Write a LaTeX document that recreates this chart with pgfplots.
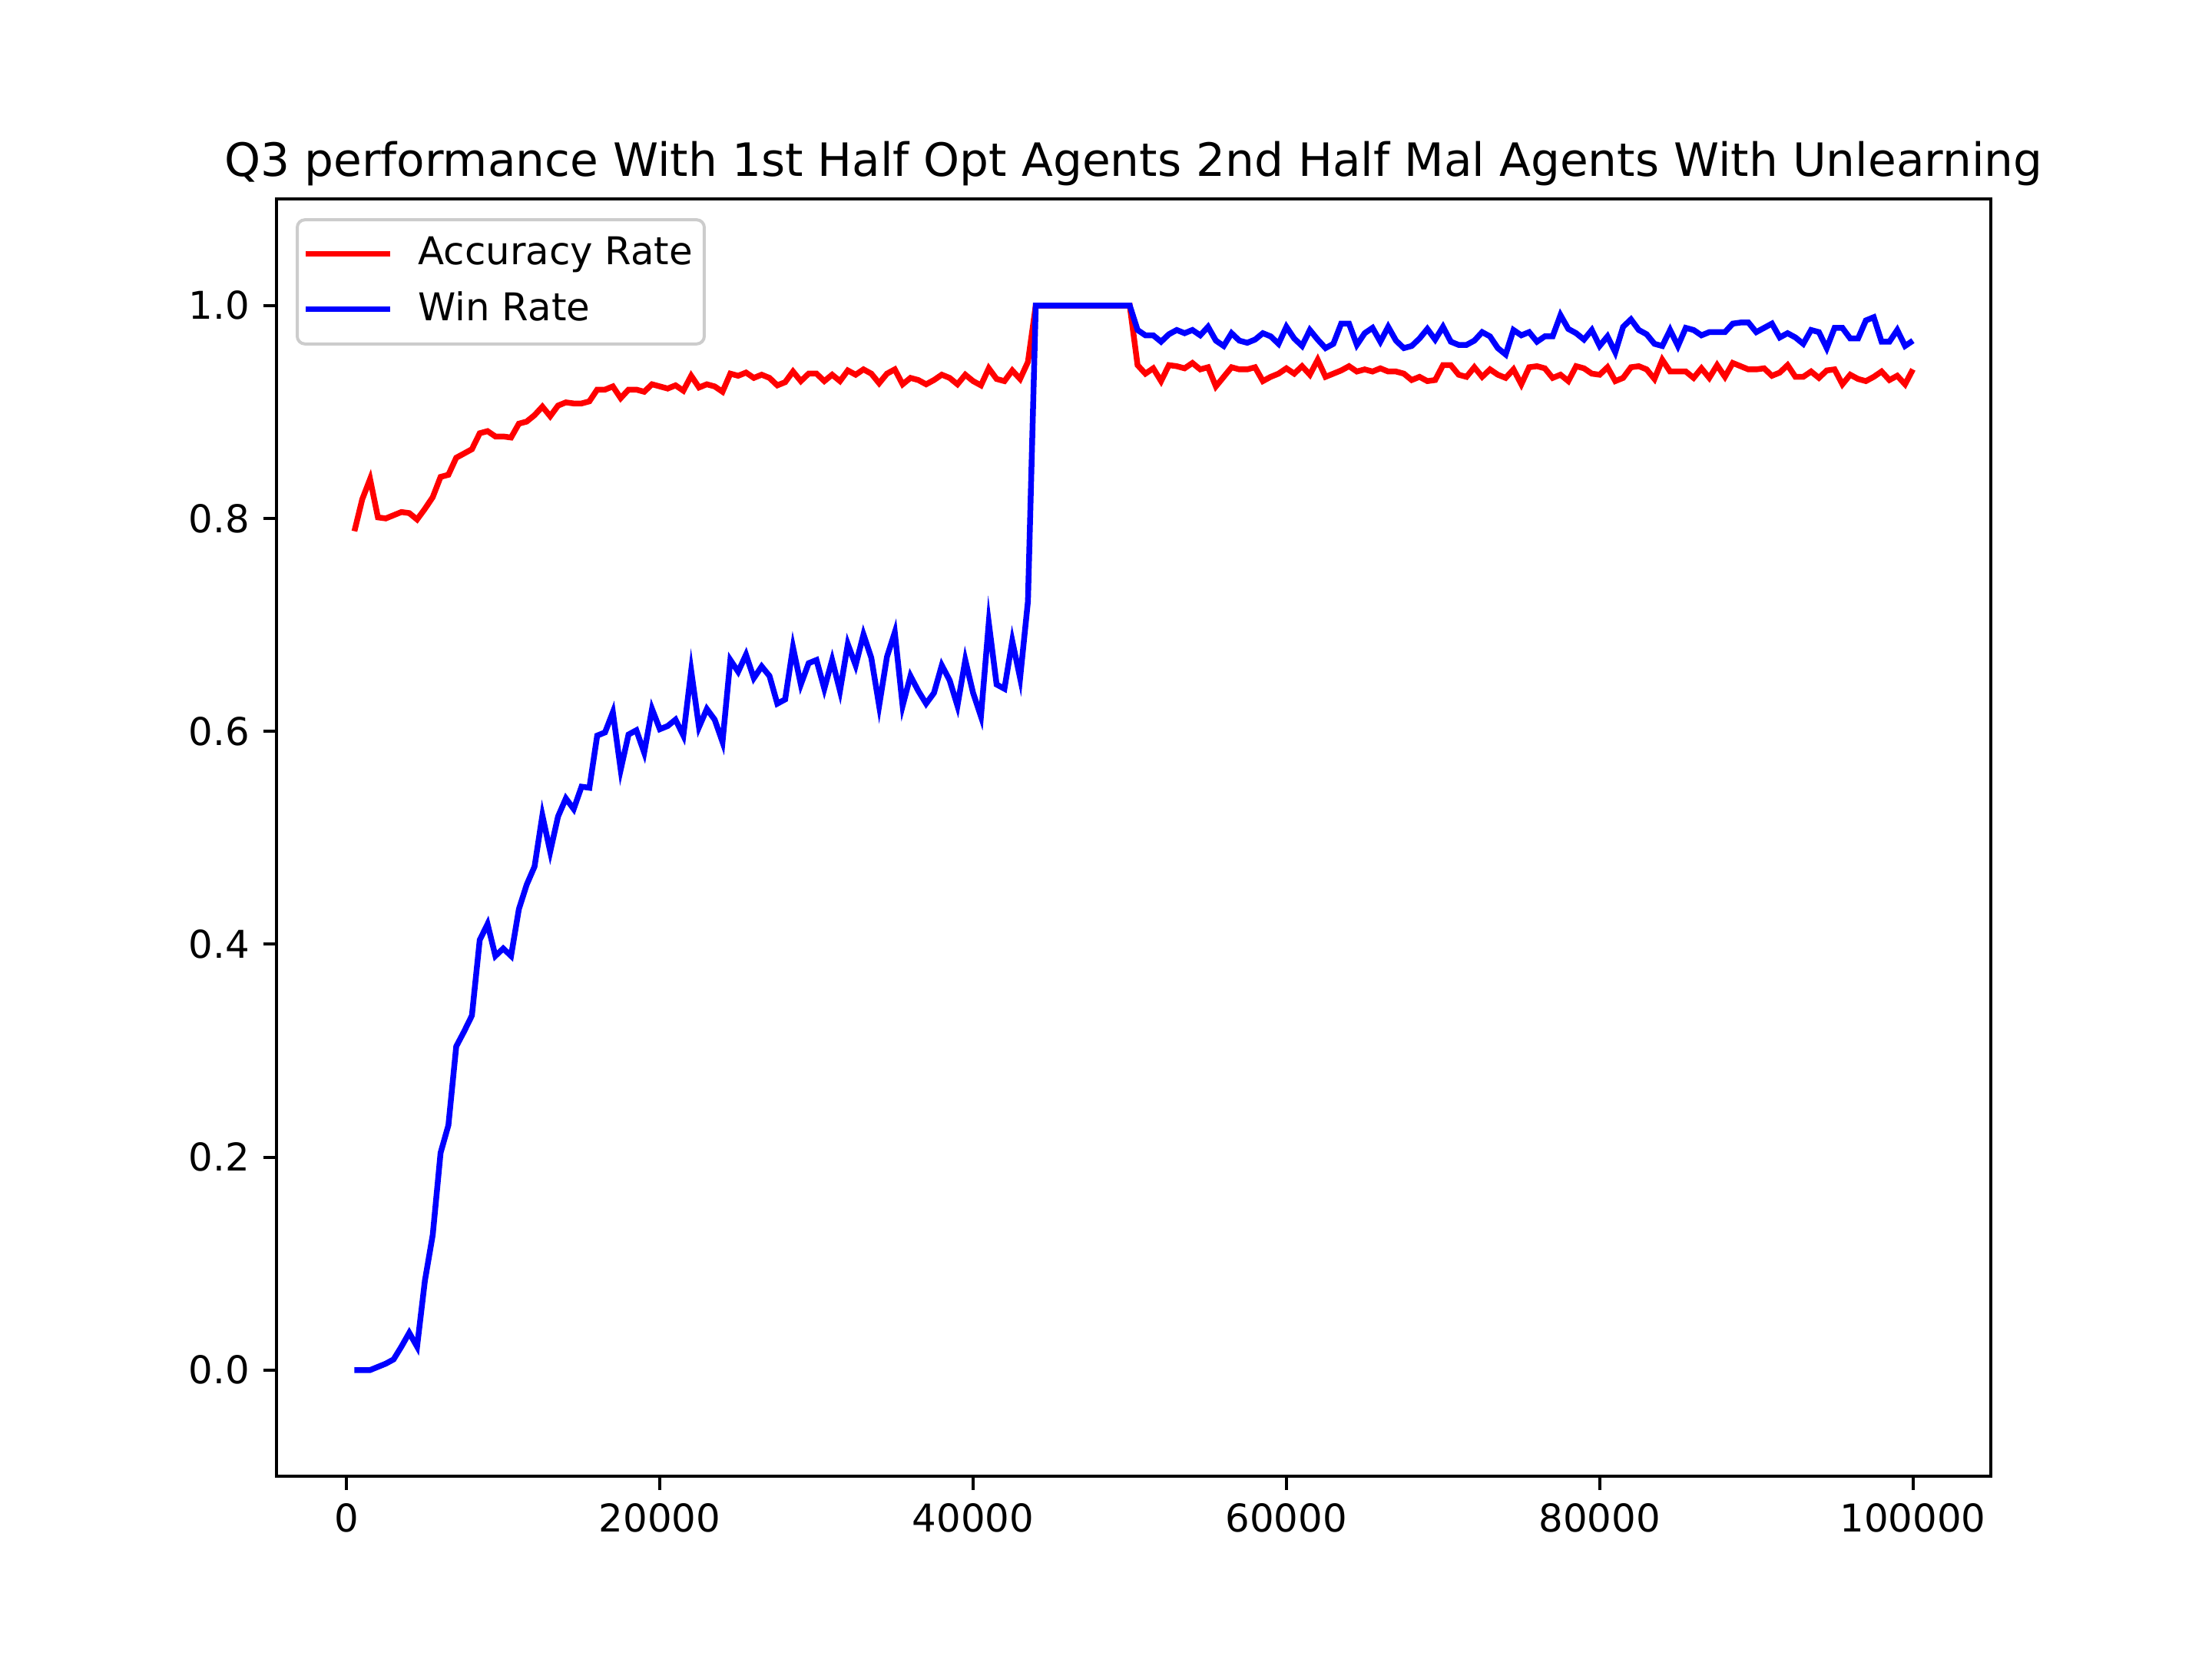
\documentclass[border=0pt]{standalone}
\usepackage{pgfplots}
\pgfplotsset{compat=1.18}
\usepackage{pgfplotstable}
\usepackage{fontspec}
\setmainfont{DejaVu Sans}
\pgfplotstableread{
x y
500 0.788
1000 0.818
1500 0.837
2000 0.801
2500 0.800
3000 0.803
3500 0.806
4000 0.805
4500 0.799
5000 0.809
5500 0.820
6000 0.839
6500 0.841
7000 0.857
7500 0.861
8000 0.865
8500 0.880
9000 0.882
9500 0.877
10000 0.877
10500 0.876
11000 0.889
11500 0.891
12000 0.897
12500 0.905
13000 0.896
13500 0.906
14000 0.909
14500 0.908
15000 0.908
15500 0.910
16000 0.921
16500 0.921
17000 0.924
17500 0.913
18000 0.921
18500 0.921
19000 0.919
19500 0.926
20000 0.924
20500 0.922
21000 0.925
21500 0.920
22000 0.934
22500 0.923
23000 0.926
23500 0.924
24000 0.919
24500 0.936
25000 0.934
25500 0.937
26000 0.932
26500 0.935
27000 0.932
27500 0.925
28000 0.928
28500 0.938
29000 0.929
29500 0.936
30000 0.936
30500 0.929
31000 0.935
31500 0.929
32000 0.939
32500 0.935
33000 0.940
33500 0.936
34000 0.927
34500 0.936
35000 0.940
35500 0.926
36000 0.932
36500 0.930
37000 0.926
37500 0.930
38000 0.935
38500 0.932
39000 0.926
39500 0.935
40000 0.929
40500 0.925
41000 0.941
41500 0.931
42000 0.929
42500 0.939
43000 0.931
43500 0.947
44000 1.0
44500 1.0
45000 1.0
45500 1.0
46000 1.0
46500 1.0
47000 1.0
47500 1.0
48000 1.0
48500 1.0
49000 1.0
49500 1.0
50000 1.0
50500 0.944
51000 0.936
51500 0.941
52000 0.929
52500 0.944
53000 0.943
53500 0.941
54000 0.946
54500 0.940
55000 0.942
55500 0.924
56000 0.933
56500 0.942
57000 0.940
57500 0.940
58000 0.942
58500 0.929
59000 0.933
59500 0.936
60000 0.941
60500 0.936
61000 0.943
61500 0.935
62000 0.949
62500 0.933
63000 0.936
63500 0.939
64000 0.943
64500 0.938
65000 0.940
65500 0.938
66000 0.941
66500 0.938
67000 0.938
67500 0.936
68000 0.930
68500 0.933
69000 0.929
69500 0.930
70000 0.944
70500 0.944
71000 0.935
71500 0.933
72000 0.942
72500 0.933
73000 0.940
73500 0.935
74000 0.932
74500 0.940
75000 0.926
75500 0.942
76000 0.943
76500 0.941
77000 0.932
77500 0.935
78000 0.929
78500 0.943
79000 0.941
79500 0.936
80000 0.935
80500 0.942
81000 0.929
81500 0.932
82000 0.942
82500 0.943
83000 0.940
83500 0.931
84000 0.949
84500 0.938
85000 0.938
85500 0.938
86000 0.932
86500 0.941
87000 0.932
87500 0.944
88000 0.933
88500 0.946
89000 0.943
89500 0.940
90000 0.940
90500 0.941
91000 0.934
91500 0.937
92000 0.944
92500 0.933
93000 0.933
93500 0.938
94000 0.932
94500 0.939
95000 0.940
95500 0.926
96000 0.935
96500 0.931
97000 0.929
97500 0.933
98000 0.938
98500 0.930
99000 0.934
99500 0.926
100000 0.940
}\acc
\pgfplotstableread{
x y
500 0.0
1000 0.0
1500 0.0
2000 0.003
2500 0.006
3000 0.010
3500 0.022
4000 0.035
4500 0.022
5000 0.084
5500 0.127
6000 0.204
6500 0.230
7000 0.304
7500 0.318
8000 0.333
8500 0.404
9000 0.419
9500 0.389
10000 0.396
10500 0.389
11000 0.433
11500 0.456
12000 0.473
12500 0.521
13000 0.487
13500 0.520
14000 0.537
14500 0.527
15000 0.548
15500 0.547
16000 0.596
16500 0.599
17000 0.618
17500 0.564
18000 0.597
18500 0.601
19000 0.580
19500 0.621
20000 0.602
20500 0.605
21000 0.611
21500 0.596
22000 0.657
22500 0.604
23000 0.621
23500 0.611
24000 0.590
24500 0.667
25000 0.656
25500 0.672
26000 0.650
26500 0.661
27000 0.652
27500 0.626
28000 0.630
28500 0.679
29000 0.644
29500 0.664
30000 0.667
30500 0.640
31000 0.667
31500 0.638
32000 0.682
32500 0.662
33000 0.691
33500 0.669
34000 0.624
34500 0.670
35000 0.693
35500 0.624
36000 0.652
36500 0.638
37000 0.626
37500 0.636
38000 0.662
38500 0.648
39000 0.624
39500 0.667
40000 0.636
40500 0.614
41000 0.702
41500 0.644
42000 0.640
42500 0.685
43000 0.650
43500 0.722
44000 1.0
44500 1.0
45000 1.0
45500 1.0
46000 1.0
46500 1.0
47000 1.0
47500 1.0
48000 1.0
48500 1.0
49000 1.0
49500 1.0
50000 1.0
50500 0.977
51000 0.972
51500 0.972
52000 0.966
52500 0.973
53000 0.977
53500 0.974
54000 0.977
54500 0.972
55000 0.980
55500 0.967
56000 0.962
56500 0.974
57000 0.967
57500 0.965
58000 0.968
58500 0.974
59000 0.971
59500 0.964
60000 0.980
60500 0.969
61000 0.962
61500 0.977
62000 0.968
62500 0.960
63000 0.964
63500 0.983
64000 0.983
64500 0.963
65000 0.974
65500 0.979
66000 0.966
66500 0.980
67000 0.967
67500 0.960
68000 0.962
68500 0.969
69000 0.978
69500 0.968
70000 0.980
70500 0.966
71000 0.963
71500 0.963
72000 0.967
72500 0.975
73000 0.971
73500 0.960
74000 0.954
74500 0.977
75000 0.972
75500 0.975
76000 0.966
76500 0.971
77000 0.971
77500 0.991
78000 0.978
78500 0.974
79000 0.968
79500 0.977
80000 0.962
80500 0.971
81000 0.956
81500 0.980
82000 0.987
82500 0.977
83000 0.973
83500 0.964
84000 0.962
84500 0.977
85000 0.962
85500 0.979
86000 0.977
86500 0.972
87000 0.975
87500 0.975
88000 0.975
88500 0.983
89000 0.984
89500 0.984
90000 0.975
90500 0.979
91000 0.983
91500 0.970
92000 0.974
92500 0.970
93000 0.964
93500 0.977
94000 0.975
94500 0.960
95000 0.979
95500 0.979
96000 0.969
96500 0.969
97000 0.986
97500 0.989
98000 0.966
98500 0.966
99000 0.977
99500 0.962
100000 0.967
}\win
\begin{document}
\begin{tikzpicture}
\path[use as bounding box, fill=white] (0,0) rectangle (576bp,432bp);
\begin{axis}[
  at={(72bp,47.52bp)}, anchor=south west,
  scale only axis, width=446.4bp, height=332.64bp,
  xmin=-4475, xmax=104975, ymin=-0.1, ymax=1.1,
  xtick={0,20000,40000,60000,80000,100000},
  ytick={0,0.2,0.4,0.6,0.8,1.0},
  scaled x ticks=false, scaled y ticks=false,
  xticklabel style={/pgf/number format/.cd, fixed, set thousands separator={}, assume math mode=true},
  yticklabel style={/pgf/number format/.cd, fixed, fixed zerofill, precision=1, assume math mode=true},
  ticklabel style={font=\fontsize{10}{12}\selectfont},
  tick align=outside, tick pos=left,
  major tick length=3.5bp,
  every tick/.style={black, line width=0.8bp},
  axis line style={line width=0.8bp},
  title={Q3 performance With 1st Half Opt Agents 2nd Half Mal Agents With Unlearning},
  title style={at={(0.5,1)}, anchor=base, inner sep=0pt, font=\fontsize{12}{14.4}\selectfont},
  legend cell align=left,
  legend image code/.code={\draw[#1] (0bp,0bp) -- (22bp,0bp);},
  legend style={at={(0,1)}, anchor=north west, xshift=5bp, yshift=-5bp,
    draw=black!20, line width=0.8bp, rounded corners=2bp, fill=white, fill opacity=0.8, text opacity=1,
    font=\fontsize{10}{12}\selectfont, inner xsep=1.5bp, inner ysep=3bp,
    row sep=2.5bp,
    nodes={inner sep=1.5bp},
    /tikz/every odd column/.append style={column sep=5bp}},
]
\addplot[red, line width=1.5bp] table[x=x,y=y] {\acc};
\addlegendentry{Accuracy Rate}
\addplot[blue, line width=1.5bp] table[x=x,y=y] {\win};
\addlegendentry{Win Rate}
\end{axis}
\end{tikzpicture}
\end{document}
